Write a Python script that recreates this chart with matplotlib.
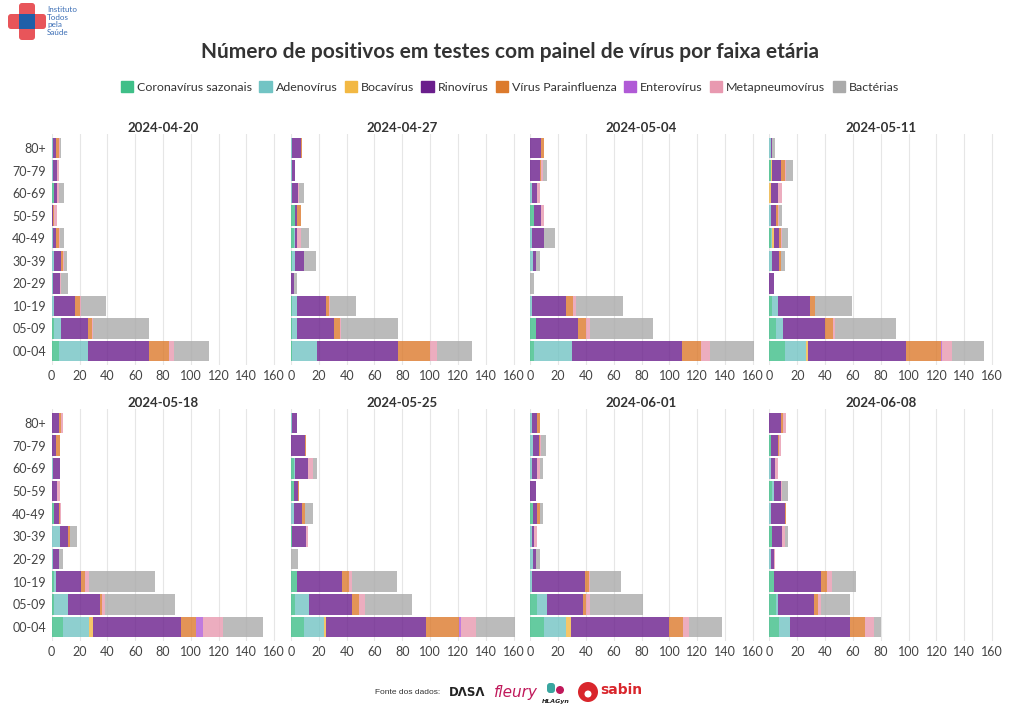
import matplotlib
matplotlib.use("Agg")
import matplotlib.pyplot as plt
import matplotlib.patches as mpatches
import numpy as np

plt.rcParams['font.family'] = ['Lato', 'DejaVu Sans']

age_groups = ["00-04", "05-09", "10-19", "20-29", "30-39", "40-49", "50-59", "60-69", "70-79", "80+"]
series_names = ["Coronavírus sazonais", "Adenovírus", "Bocavírus", "Rinovírus",
                "Vírus Parainfluenza", "Enterovírus", "Metapneumovírus", "Bactérias"]
series_colors = ["#3fbf88", "#72c4c4", "#f2b843", "#6a1e8c", "#dc7a2c", "#b05ad6", "#e899b0", "#aaaaaa"]
dates = ["2024-04-20", "2024-04-27", "2024-05-04", "2024-05-11",
         "2024-05-18", "2024-05-25", "2024-06-01", "2024-06-08"]

# values per week: rows = age groups (00-04 ... 80+), cols = series (order of series_names)
w_2024_04_20 = [[5, 21, 0, 44, 14, 0, 4, 25], [2, 5, 0, 19, 3, 0, 1, 40], [0, 2, 0, 15, 3, 0, 1, 18],
                [0, 1, 0, 5, 0, 0, 1, 5], [0, 2, 0, 5, 1, 0, 1, 2], [0, 1, 0, 2, 2, 0, 1, 3],
                [0, 0, 0, 1, 1, 0, 2, 0], [2, 0, 0, 2, 0, 0, 1, 4], [0, 1, 0, 3, 0, 0, 1, 0],
                [0, 1, 0, 2, 2, 0, 1, 1]]
w_2024_04_27 = [[1, 18, 0, 58, 23, 0, 5, 25], [1, 3, 0, 27, 4, 0, 1, 41], [1, 3, 0, 21, 2, 0, 1, 19],
                [0, 0, 0, 2, 0, 0, 0, 2], [1, 2, 0, 6, 0, 0, 0, 9], [2, 1, 0, 1, 0, 0, 3, 6],
                [3, 0, 0, 1, 3, 0, 0, 0], [0, 1, 0, 4, 0, 0, 1, 3], [0, 1, 0, 2, 0, 0, 0, 0],
                [0, 1, 0, 6, 1, 0, 0, 0]]
w_2024_05_04 = [[3, 27, 0, 79, 14, 0, 6, 32], [4, 0, 0, 30, 6, 0, 3, 45], [0, 1, 0, 25, 5, 0, 2, 34],
                [0, 0, 0, 0, 0, 0, 0, 3], [0, 2, 0, 2, 0, 0, 0, 3], [0, 1, 0, 9, 0, 0, 0, 8],
                [3, 0, 0, 5, 0, 0, 2, 0], [0, 1, 0, 4, 0, 0, 2, 0], [0, 0, 0, 7, 1, 0, 1, 3],
                [0, 0, 0, 8, 2, 0, 0, 0]]
w_2024_05_11 = [[11, 15, 2, 70, 25, 1, 7, 23], [5, 5, 0, 30, 6, 0, 1, 44], [2, 4, 0, 23, 4, 0, 0, 26],
                [0, 0, 0, 3, 0, 0, 0, 0], [0, 2, 0, 5, 1, 0, 0, 3], [1, 1, 1, 4, 1, 0, 1, 4],
                [0, 1, 0, 4, 1, 0, 1, 2], [0, 0, 1, 5, 0, 0, 3, 0], [1, 0, 1, 6, 3, 0, 1, 5],
                [0, 1, 0, 1, 0, 0, 0, 2]]
w_2024_05_18 = [[8, 19, 3, 63, 11, 5, 14, 29], [2, 10, 0, 23, 1, 0, 2, 51], [2, 1, 0, 18, 3, 0, 3, 47],
                [0, 1, 0, 4, 0, 0, 0, 3], [0, 6, 0, 6, 1, 0, 0, 5], [2, 0, 0, 3, 1, 0, 1, 0],
                [0, 0, 0, 4, 0, 0, 2, 0], [0, 1, 0, 5, 0, 0, 0, 0], [0, 0, 0, 3, 3, 0, 0, 0],
                [0, 0, 0, 5, 2, 0, 1, 0]]
w_2024_05_25 = [[9, 15, 1, 72, 24, 1, 11, 28], [3, 10, 0, 31, 5, 0, 4, 34], [4, 0, 0, 33, 5, 0, 2, 32],
                [0, 0, 0, 0, 0, 0, 0, 5], [1, 0, 0, 10, 0, 0, 1, 0], [0, 2, 0, 6, 2, 0, 0, 6],
                [2, 0, 0, 3, 1, 0, 0, 0], [2, 1, 0, 9, 0, 0, 4, 3], [0, 0, 0, 10, 1, 0, 0, 0],
                [0, 1, 0, 3, 0, 0, 0, 0]]
w_2024_06_01 = [[10, 16, 3, 71, 10, 0, 4, 24], [5, 7, 0, 26, 2, 0, 3, 38], [0, 1, 0, 38, 3, 0, 1, 22],
                [0, 2, 0, 2, 0, 0, 0, 3], [0, 1, 0, 2, 0, 0, 2, 0], [2, 0, 0, 3, 2, 0, 0, 2],
                [0, 0, 0, 4, 0, 0, 0, 0], [0, 1, 0, 4, 0, 0, 2, 2], [0, 2, 0, 4, 1, 0, 1, 3],
                [0, 1, 0, 4, 2, 0, 0, 0]]
w_2024_06_08 = [[7, 8, 0, 43, 11, 0, 6, 5], [5, 1, 0, 26, 3, 0, 2, 21], [3, 0, 0, 34, 4, 0, 4, 17],
                [0, 1, 0, 2, 0, 0, 1, 0], [2, 0, 0, 7, 0, 0, 2, 2], [0, 1, 0, 10, 1, 0, 0, 0],
                [2, 1, 0, 5, 0, 0, 1, 4], [0, 1, 0, 3, 0, 0, 2, 0], [1, 0, 0, 5, 1, 0, 1, 0],
                [0, 0, 0, 8, 2, 0, 2, 0]]
weeks = [w_2024_04_20, w_2024_04_27, w_2024_05_04, w_2024_05_11,
         w_2024_05_18, w_2024_05_25, w_2024_06_01, w_2024_06_08]
x_ticks = [0, 20, 40, 60, 80, 100, 120, 140, 160]

W, H = 1020, 723
fig = plt.figure(figsize=(W / 100, H / 100), dpi=100)

def fx(px):
    return px / W

def fy(py):
    return 1 - py / H

col_x0 = [51.7, 291.0, 530.3, 769.5]
px_per_unit = 222.5 / 160
xmax = 165
row_bounds = [(134.4, 364.6), (409.4, 640.6)]

y = np.arange(len(age_groups))
for i, (date, data) in enumerate(zip(dates, weeks)):
    r, c = divmod(i, 4)
    top, bot = row_bounds[r]
    ax = fig.add_axes([fx(col_x0[c]), fy(bot), fx(xmax * px_per_unit), (bot - top) / H])
    arr = np.array(data, dtype=float)
    left = np.zeros(len(age_groups))
    for k, (name, color) in enumerate(zip(series_names, series_colors)):
        ax.barh(y, arr[:, k], left=left, height=0.9, color=color, alpha=0.8, linewidth=0, zorder=2)
        left += arr[:, k]
    ax.set_xlim(0, xmax)
    ax.set_ylim(-0.6, len(age_groups) - 0.4)
    ax.set_xticks(x_ticks)
    ax.set_xticklabels([str(t) for t in x_ticks], fontsize=9, color="#444444")
    ax.set_yticks(y)
    if c == 0:
        ax.set_yticklabels(age_groups, fontsize=9, color="#444444")
    else:
        ax.set_yticklabels([])
    ax.tick_params(length=0, pad=4)
    ax.grid(axis="x", color="#e6e6e6", linewidth=0.8, zorder=0)
    ax.set_axisbelow(True)
    for s in ax.spines.values():
        s.set_visible(False)
    ax.text(80, len(age_groups) - 0.4, date, transform=ax.transData, ha="center", va="bottom",
            fontsize=9.5, fontweight="bold", color="#333333")

# Title
fig.text(0.5, fy(52), "Número de positivos em testes com painel de vírus por faixa etária",
         ha="center", va="center", fontsize=15, fontweight="bold", color="#333333")

# Legend
handles = [mpatches.Patch(color=c, label=n) for n, c in zip(series_names, series_colors)]
fig.legend(handles=handles, loc="center", bbox_to_anchor=(0.5, fy(87)), ncol=8, frameon=False,
           fontsize=8.9, handlelength=1.0, handleheight=1.0, handletextpad=0.3, columnspacing=0.6,
           labelcolor="#333333")

# Logo (top-left)
logo_ax = fig.add_axes([fx(8), fy(40), fx(38), 37 / H])
logo_ax.set_xlim(0, 38)
logo_ax.set_ylim(0, 37)
logo_ax.axis("off")
logo_ax.add_patch(mpatches.FancyBboxPatch((0, 11), 38, 15, boxstyle="round,pad=0,rounding_size=3",
                                          color="#e8555a", lw=0))
logo_ax.add_patch(mpatches.FancyBboxPatch((11, 0), 16, 37, boxstyle="round,pad=0,rounding_size=3",
                                          color="#e8555a", lw=0))
logo_ax.add_patch(mpatches.Rectangle((11, 11), 16, 15, color="#1f5fa8", lw=0))
fig.text(fx(47), fy(21), "Instituto\nTodos\npela\nSaúde", ha="left", va="center", fontsize=5.8,
         color="#3a6db5", linespacing=1.15)

# Footer drawn in pixel coordinates
foot = fig.add_axes([fx(360), fy(715), fx(300), 40 / H])
foot.set_xlim(360, 660)
foot.set_ylim(715, 675)
foot.axis("off")
foot.text(375, 693, "Fonte dos dados:", ha="left", va="center", fontsize=6,
          color="#333333", family=["Liberation Sans", "DejaVu Sans"])
foot.text(449, 693, "DΛSΛ", ha="left", va="center", fontsize=8.5, fontweight="bold",
          color="#222222", family=["DejaVu Sans"])
foot.text(494, 692, "fleury", ha="left", va="center", fontsize=11, style="italic",
          color="#c0185a", family=["DejaVu Sans"])
foot.add_patch(mpatches.FancyBboxPatch((547, 683), 8, 10, boxstyle="round,pad=0,rounding_size=3",
                                       color="#3aa6a0", lw=0))
foot.add_patch(mpatches.Circle((560, 690), 4, color="#c0185a", lw=0))
foot.text(556, 702, "HLAGyn", ha="center", va="center", fontsize=4.5, fontweight="bold",
          style="italic", color="#222222", family=["DejaVu Sans"])
foot.add_patch(mpatches.Circle((588, 692), 10, color="#d9262c", lw=0))
foot.add_patch(mpatches.Circle((588, 694), 3.5, color="white", lw=0))
foot.text(600, 690, "sabin", ha="left", va="center", fontsize=10, fontweight="bold",
          color="#d9262c", family=["DejaVu Sans"])

fig.savefig("out.png", dpi=100)
